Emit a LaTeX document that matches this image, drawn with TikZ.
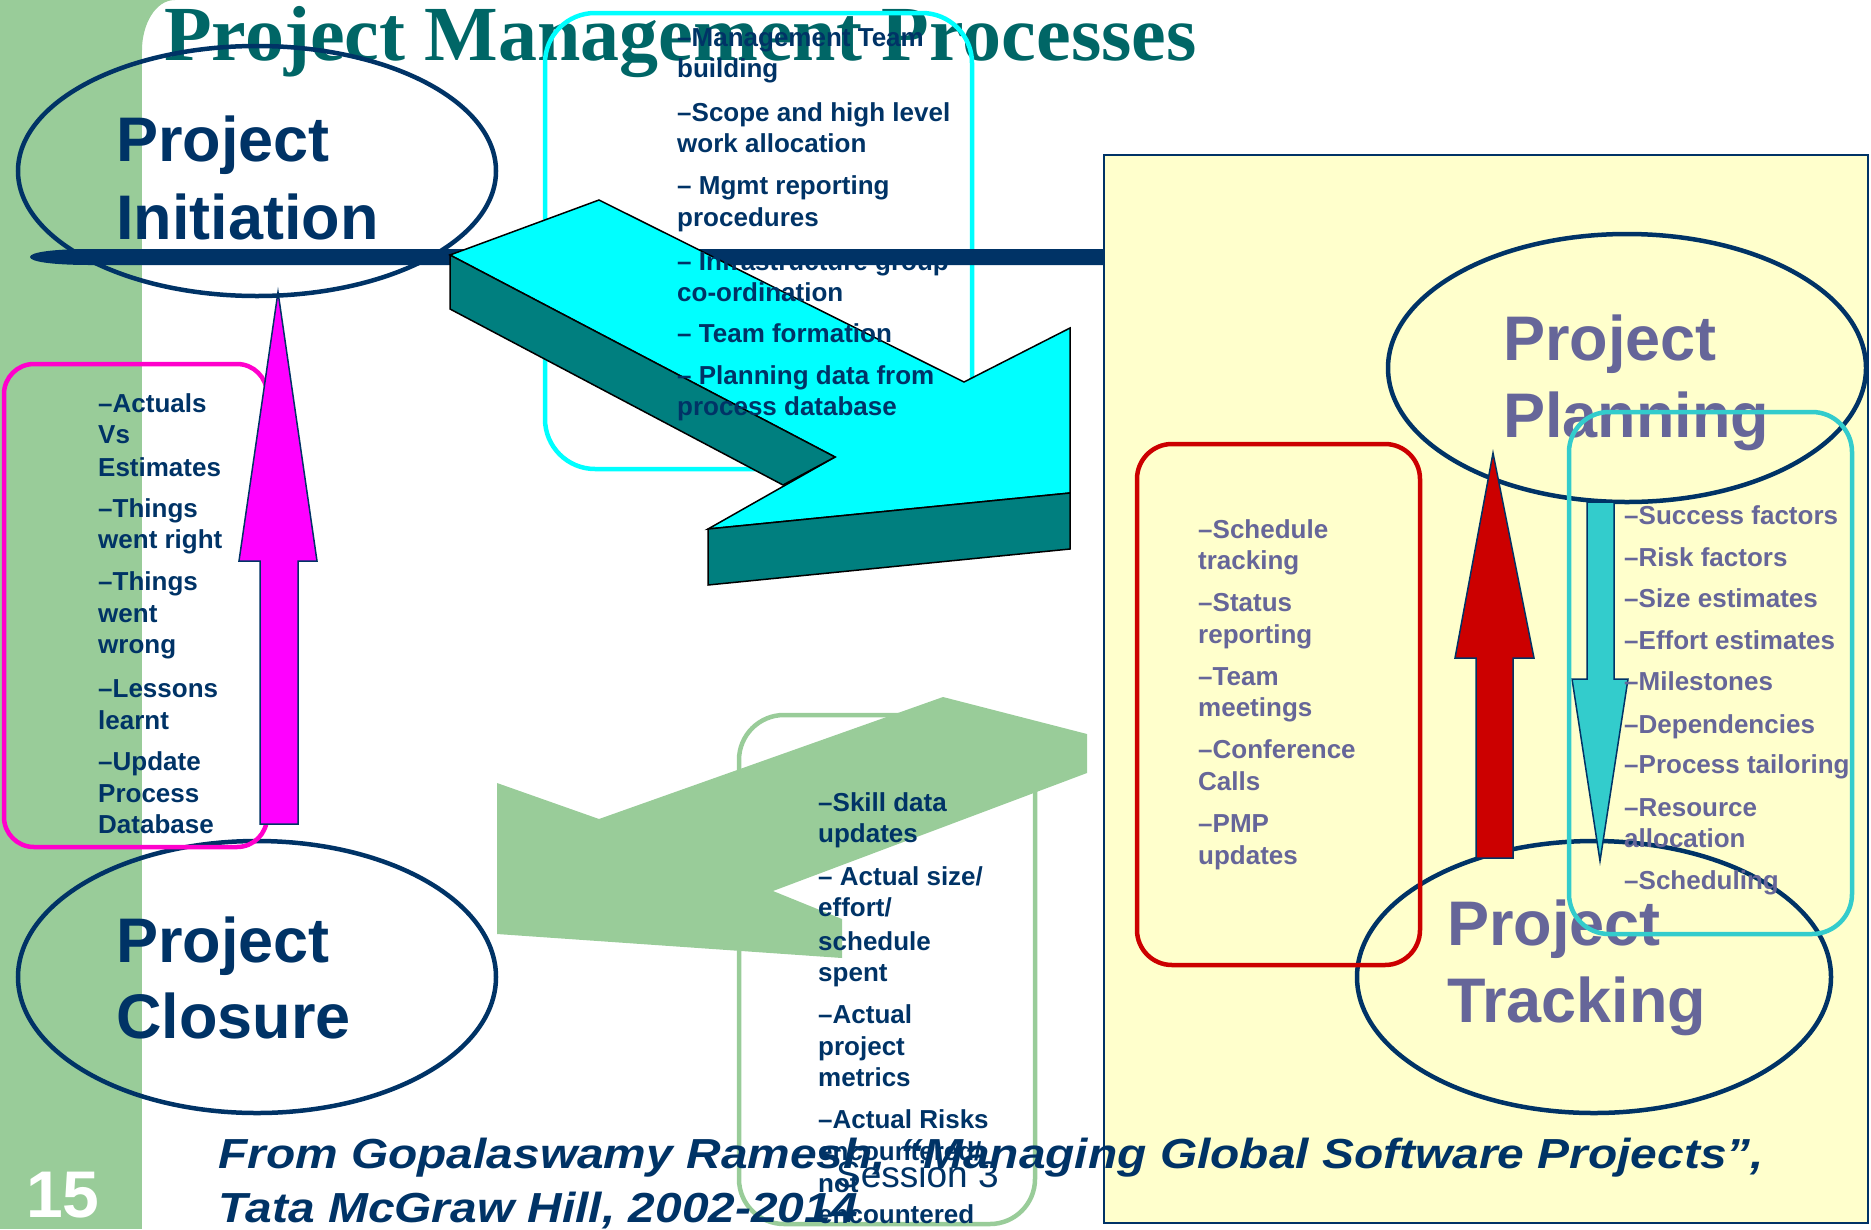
\documentclass[tikz,border=0pt]{standalone}
\usepackage{fontspec}
\setmainfont{Liberation Sans}
\newfontfamily\titlefont{Liberation Serif}
\newfontfamily\citefont[FakeStretch=1.14]{Liberation Sans}
\usepackage{tikz}
\usetikzlibrary{shapes.geometric}

\definecolor{navy}{HTML}{003366}
\definecolor{slidegreen}{HTML}{99CC99}
\definecolor{titleteal}{HTML}{006666}
\definecolor{greyblue}{HTML}{666699}
\definecolor{paleyellow}{HTML}{FFFFCC}
\definecolor{brightcyan}{HTML}{00FFFF}
\definecolor{darkteal}{HTML}{007F7F}
\definecolor{brightmagenta}{HTML}{FF00FF}
\definecolor{pinkline}{HTML}{FF00CC}
\definecolor{redline}{HTML}{CC0000}
\definecolor{tealline}{HTML}{33CCCC}

\begin{document}
\begin{tikzpicture}[x=1pt,y=-1pt,
	phase/.style={draw=navy,line width=4.5pt,ellipse,inner sep=0pt,minimum width=478pt,minimum height=250pt},
	bigtext/.style={anchor=base west,inner sep=0pt,font=\fontsize{63}{70}\selectfont\bfseries},
	itemtext/.style={anchor=base west,inner sep=0pt,font=\fontsize{26}{30}\selectfont\bfseries},
	listbox/.style={line width=4.5pt},
	blockarrow/.style={draw=navy,line width=1.5pt}]
		\useasboundingbox (0,0) rectangle (1871,1229);
		\clip (0,0) rectangle (1871,1229);
		% slide background
		\fill[slidegreen] (0,0) rectangle (142,1229);
		\fill[slidegreen] (142,0) -- (175,0) .. controls (155,0) and (142,25) .. (142,50) -- cycle;
		\node[anchor=base west,inner sep=0pt,text=titleteal,font=\titlefont\fontsize{78}{80}\selectfont\bfseries] (title) at (164,60) {Project Management Processes};
		\fill[paleyellow,draw=navy,line width=2.5pt] (1104,155) rectangle (1868,1223);
		% the four phases
		\node[phase] (initiation) at (257,171) {};
		\node[phase,minimum height=272pt] (closure) at (257,977) {};
		\node[phase,minimum height=268pt] (planning) at (1627,368) {};
		\node[phase,minimum width=474pt,minimum height=272pt] (tracking) at (1594,977) {};
		\node[bigtext,navy] (initA) at (116,161) {Project};
		\node[bigtext,navy] (initB) at (116,239) {Initiation};
		\node[bigtext,navy] (closA) at (116,962) {Project};
		\node[bigtext,navy] (closB) at (116,1038) {Closure};
		\node[bigtext,greyblue] (planA) at (1503,360) {Project};
		\node[bigtext,greyblue] (planB) at (1503,437) {Planning};
		\node[bigtext,greyblue] (trackA) at (1447,945) {Project};
		\node[bigtext,greyblue] (trackB) at (1447,1022) {Tracking};
		% initiation -> planning
		\draw[brightcyan,listbox,rounded corners=50pt] (545,13) rectangle (972,469);
		\fill[navy] (1104,249) -- (90,249) .. controls (55,249) and (30,252) .. (30,257) .. controls (30,262) and (55,265) .. (90,265) -- (1104,265) -- cycle;
		\filldraw[fill=brightcyan,draw=black,line width=1.5pt] (450,255) -- (599,200) -- (964,382) -- (1070,328) -- (1070,493) -- (708,529) -- (835,457) -- cycle;
		\filldraw[fill=darkteal,draw=black,line width=1.5pt] (450,255) -- (835,457) -- (783,485) -- (450,309) -- cycle;
		\filldraw[fill=darkteal,draw=black,line width=1.5pt] (708,529) -- (1070,493) -- (1070,549) -- (708,585) -- cycle;
		\foreach \y/\t [count=\i] in {46/–Management Team,77/building,121/–Scope and high level,152/work allocation,194/– Mgmt reporting,226/procedures,270/– Infrastructure group,301/co-ordination,342/– Team formation,384/– Planning data from,415/process database}
		\node[itemtext,navy] (start\i) at (677,\y) {\t};
		% closure -> initiation
		\draw[pinkline,listbox,rounded corners=30pt] (4,364) rectangle (267,847);
		\filldraw[fill=brightmagenta,blockarrow] (278,292) -- (317,561) -- (298,561) -- (298,824) -- (260,824) -- (260,561) -- (239,561) -- cycle;
		\foreach \y/\t [count=\i] in {412/–Actuals,443/Vs,476/Estimates,517/–Things,548/went right,590/–Things,622/went,653/wrong,697/–Lessons,729/learnt,770/–Update,802/Process,833/Database}
		\node[itemtext,navy] (close\i) at (98,\y) {\t};
		% tracking -> closure
		\draw[slidegreen,listbox,rounded corners=45pt] (739,715) rectangle (1035,1224);
		\fill[slidegreen] (497,783) -- (599,819) -- (943,697) -- (1087,734) -- (1087,773) -- (773,891) -- (842,919) -- (842,958) -- (497,934) -- cycle;
		\foreach \y/\t [count=\i] in {811/–Skill data,842/updates,885/{– Actual size/},916/{effort/},950/schedule,981/spent,1023/–Actual,1055/project,1086/metrics,1128/–Actual Risks,1160/{encountered/},1192/not,1223/encountered}
		\node[itemtext,navy] (end\i) at (818,\y) {\t};
		% tracking <-> planning
		\draw[redline,listbox,rounded corners=35pt] (1137,444) rectangle (1420,965);
		\filldraw[fill=redline,blockarrow] (1493,453) -- (1534,658) -- (1513,658) -- (1513,858) -- (1476,858) -- (1476,658) -- (1455,658) -- cycle;
		\foreach \y/\t [count=\i] in {538/–Schedule,569/tracking,611/–Status,643/reporting,685/–Team,716/meetings,758/–Conference,790/Calls,832/–PMP,864/updates}
		\node[itemtext,greyblue] (track\i) at (1198,\y) {\t};
		\filldraw[fill=tealline,blockarrow] (1587,502) -- (1614,502) -- (1614,679) -- (1628,679) -- (1600,861) -- (1572,679) -- (1587,679) -- cycle;
		\draw[tealline,listbox,rounded corners=40pt] (1569,412) rectangle (1852,934);
		\foreach \y/\t [count=\i] in {524/–Success factors,566/–Risk factors,607/–Size estimates,649/–Effort estimates,690/–Milestones,733/–Dependencies,773/–Process tailoring,816/–Resource,847/allocation,889/–Scheduling}
		\node[itemtext,greyblue] (plan\i) at (1624,\y) {\t};
		% footer
		\node[anchor=base west,inner sep=0pt,navy,font=\citefont\fontsize{42}{50}\selectfont\bfseries\itshape] (cite) at (218,1168) {From Gopalaswamy Ramesh, “Managing Global Software Projects”,};
		\node[anchor=base west,inner sep=0pt,navy,font=\citefont\fontsize{42}{50}\selectfont\bfseries\itshape] (cite2) at (218,1222) {Tata McGraw Hill, 2002-2014};
		\node[anchor=base west,inner sep=0pt,navy,font=\fontsize{37}{40}\selectfont] (session) at (836,1187) {Session 3};
		\node[anchor=base west,inner sep=0pt,white,font=\fontsize{66}{70}\selectfont\bfseries] (pageno) at (26,1217) {15};
\end{tikzpicture}
\end{document}
